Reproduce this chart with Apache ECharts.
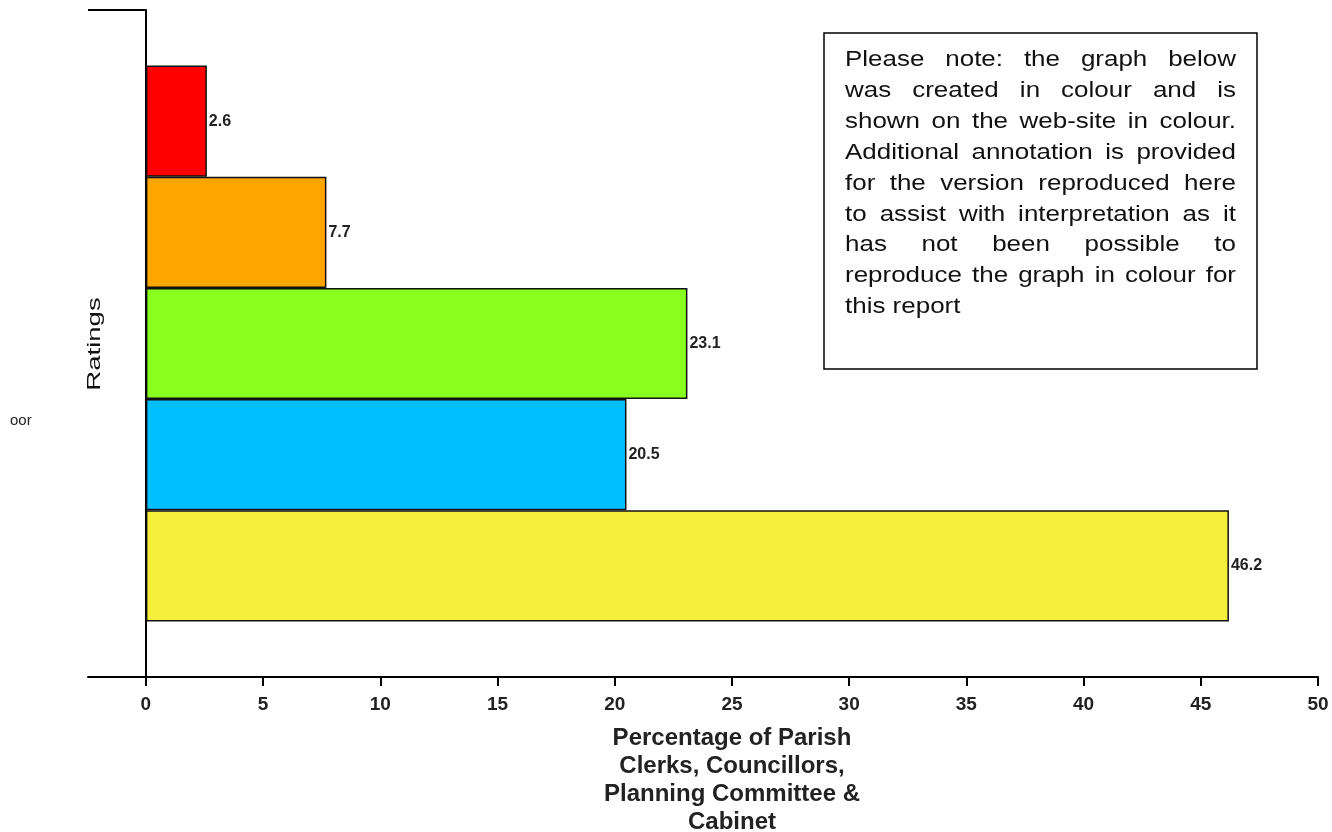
<!DOCTYPE html>
<html>
<head>
<meta charset="utf-8">
<script src="https://cdn.jsdelivr.net/npm/echarts@6/dist/echarts.min.js"></script>
<style>
html,body{margin:0;padding:0;background:#fff;}
#chart{width:1332px;height:832px;}
</style>
</head>
<body>
<div id="chart"></div>
<script>
// ---- data ----
const ratings = ['Very Poor', 'Poor', 'Average', 'Good', 'Very Good'];
const percentages = [2.6, 7.7, 23.1, 20.5, 46.2];
const barColors = ['#ff0000', '#ffa500', '#88ff1e', '#00bfff', '#f4ef3c'];
const xTicks = [0, 5, 10, 15, 20, 25, 30, 35, 40, 45, 50];
const xName = 'Percentage of Parish\nClerks, Councillors,\nPlanning Committee &\nCabinet';
const yName = 'Ratings';
const noteLines = [
  'Please note: the graph below',
  'was created in colour and is',
  'shown on the web-site in colour.',
  'Additional annotation is provided',
  'for the version reproduced here',
  'to assist with interpretation as it',
  'has not been possible to',
  'reproduce the graph in colour for',
  'this report'
];

// padded category list (half-band empty space at top and bottom)
const categories = [' '].concat(ratings, ['  ']);
const seriesData = ['-'].concat(percentages.map((v, i) => ({
  value: v,
  itemStyle: { color: barColors[i] }
})), ['-']);

const FONT = '"Liberation Sans", Arial, sans-serif';
const xMin = -2.47;

// ---- note box (justified text) ----
const noteFontSize = 22, noteScale = 1.18;
const cvs = document.createElement('canvas').getContext('2d');
cvs.font = noteFontSize + 'px "Liberation Sans"';
const box = { x: 824, y: 33, w: 433, h: 336 };
const tLeft = 845, tRight = 1236, tTop = 60, tGap = 30.9;
const noteEls = [{
  type: 'rect',
  shape: { x: box.x, y: box.y, width: box.w, height: box.h },
  style: { fill: '#fff', stroke: '#000', lineWidth: 1.5 }
}];
noteLines.forEach((line, li) => {
  const words = line.split(' ');
  const widths = words.map(w => cvs.measureText(w).width * noteScale);
  const total = widths.reduce((a, b) => a + b, 0);
  const last = li === noteLines.length - 1;
  const gap = (!last && words.length > 1) ? (tRight - tLeft - total) / (words.length - 1)
                                           : cvs.measureText(' ').width * noteScale;
  let x = tLeft;
  words.forEach((w, wi) => {
    noteEls.push({
      type: 'text', x: x, y: tTop + li * tGap, scaleX: noteScale,
      style: { text: w, fontSize: noteFontSize, fontFamily: FONT, fill: '#111',
               align: 'left', verticalAlign: 'middle' }
    });
    x += widths[wi] + gap;
  });
});

const chart = echarts.init(document.getElementById('chart'), null, { renderer: 'canvas' });
chart.setOption({
  backgroundColor: '#fff',
  animation: false,
  grid: { left: 88, right: 14, top: 10, bottom: 155, containLabel: false, outerBoundsMode: 'none' },
  xAxis: {
    type: 'value',
    min: xMin,
    max: 50,
    splitLine: { show: false },
    axisLine: { show: true, lineStyle: { color: '#000', width: 2 } },
    axisTick: { show: true, customValues: xTicks, length: 9, lineStyle: { color: '#000', width: 2 } },
    axisLabel: {
      customValues: xTicks, margin: 18, fontSize: 19, fontWeight: 'bold',
      color: '#222', fontFamily: FONT
    },
    name: xName,
    nameLocation: 'middle',
    nameGap: 47,
    nameTextStyle: {
      fontSize: 24, fontWeight: 'bold', color: '#222', fontFamily: FONT,
      lineHeight: 28, align: 'center', verticalAlign: 'top', padding: [0, 0, 0, 58]
    }
  },
  yAxis: {
    type: 'category',
    data: categories,
    inverse: true,
    boundaryGap: false,
    axisLine: { show: true, onZero: true, lineStyle: { color: '#000', width: 2 } },
    axisTick: { show: false },
    axisLabel: { show: false },
    splitLine: { show: false }
  },
  series: [{
    type: 'bar',
    data: seriesData,
    barWidth: '100%',
    itemStyle: { borderColor: '#111', borderWidth: 1.5 },
    label: {
      show: true, position: 'right', distance: 2,
      fontSize: 16, fontWeight: 'bold', color: '#222', fontFamily: FONT
    },
    markLine: {
      silent: true,
      symbol: ['none', 'none'],
      label: { show: false },
      lineStyle: { color: '#000', width: 2, type: 'solid' },
      data: [[{ coord: [xMin, 0] }, { coord: [0, 0] }]]
    }
  }],
  graphic: [
    {
      type: 'text', x: 95, y: 344, rotation: Math.PI / 2, scaleX: 1.45,
      style: { text: yName, fontSize: 19, fontFamily: FONT, fill: '#111',
               align: 'center', verticalAlign: 'middle' }
    },
    {
      type: 'text', x: 10, y: 421,
      style: { text: 'oor', fontSize: 15, fontFamily: FONT, fill: '#222',
               align: 'left', verticalAlign: 'middle' }
    }
  ].concat(noteEls)
});
</script>
</body>
</html>
